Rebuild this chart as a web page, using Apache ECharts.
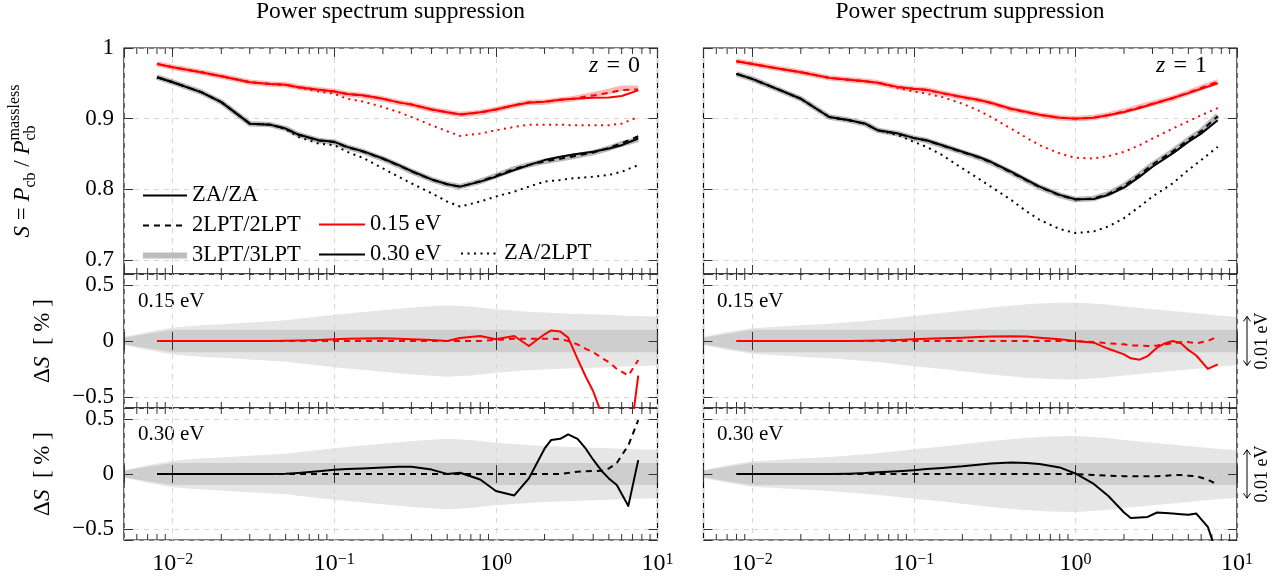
<!DOCTYPE html>
<html><head><meta charset="utf-8">
<script src="https://cdn.jsdelivr.net/npm/echarts/dist/echarts.min.js"></script>
<style>html,body{margin:0;padding:0;background:#fff}#c{width:1287px;height:583px}</style>
</head><body><div id="c"></div>
<script>
// ---------------- data ----------------
const kTop = [0.008, 0.01, 0.015, 0.02, 0.03, 0.04, 0.05, 0.06, 0.08, 0.1, 0.12, 0.15, 0.2, 0.25, 0.3, 0.4, 0.5, 0.6, 0.8, 1.0, 1.3, 1.6, 2, 2.5, 3, 4, 5, 6, 7.6];

// z = 0, 0.15 eV
const z0RedZA   = [0.9775,0.9727,0.9657,0.9600,0.9516,0.9490,0.9480,0.9445,0.9410,0.9385,0.9350,0.9330,0.9280,0.9230,0.9200,0.9130,0.9090,0.9060,0.9090,0.9130,0.9190,0.9225,0.9240,0.9267,0.9280,0.9296,0.9300,0.9320,0.9400];
const z0RedLPT2 = [0.9775,0.9727,0.9657,0.9600,0.9516,0.9490,0.9480,0.9445,0.9410,0.9385,0.9350,0.9330,0.9280,0.9230,0.9200,0.9130,0.9090,0.9058,0.9086,0.9130,0.9190,0.9232,0.9238,0.9266,0.9282,0.9329,0.9366,0.9405,0.9414];
const z0RedLPT3 = [0.9775,0.9727,0.9657,0.9600,0.9516,0.9490,0.9480,0.9445,0.9410,0.9384,0.9349,0.9328,0.9278,0.9228,0.9199,0.9129,0.9090,0.9058,0.9086,0.9129,0.9188,0.9229,0.9236,0.9265,0.9282,0.9338,0.9384,0.9430,0.9430];
const z0RedZA2  = [0.9775,0.9727,0.9657,0.9600,0.9516,0.9490,0.9475,0.9440,0.9385,0.9352,0.9281,0.9244,0.9164,0.9093,0.9023,0.8906,0.8821,0.8755,0.8788,0.8835,0.8882,0.8915,0.8915,0.8915,0.8906,0.8906,0.8906,0.8929,0.9023];
// z = 0, 0.30 eV
const z0BlackZA   = [0.9586,0.9516,0.9375,0.9234,0.8929,0.8915,0.8859,0.8774,0.8694,0.8671,0.8600,0.8539,0.8436,0.8342,0.8258,0.8140,0.8070,0.8037,0.8108,0.8178,0.8272,0.8342,0.8413,0.8460,0.8493,0.8530,0.8577,0.8624,0.8718];
const z0BlackLPT2 = [0.9586,0.9516,0.9375,0.9234,0.8929,0.8915,0.8859,0.8772,0.8691,0.8667,0.8596,0.8535,0.8431,0.8337,0.8253,0.8137,0.8070,0.8036,0.8112,0.8191,0.8288,0.8345,0.8394,0.8433,0.8465,0.8521,0.8584,0.8653,0.8750];
const z0BlackLPT3 = [0.9586,0.9516,0.9375,0.9234,0.8929,0.8915,0.8859,0.8772,0.8691,0.8667,0.8596,0.8535,0.8431,0.8337,0.8253,0.8137,0.8070,0.8036,0.8112,0.8191,0.8288,0.8345,0.8394,0.8433,0.8464,0.8519,0.8580,0.8641,0.8707];
const z0BlackZA2  = [0.9586,0.9516,0.9375,0.9234,0.8929,0.8915,0.8850,0.8741,0.8647,0.8624,0.8530,0.8446,0.8295,0.8178,0.8084,0.7943,0.7826,0.7755,0.7826,0.7896,0.7967,0.8037,0.8108,0.8131,0.8155,0.8178,0.8202,0.8248,0.8342];
// z = 1, 0.15 eV
const z1RedZA   = [0.9812,0.9774,0.9704,0.9657,0.9577,0.9549,0.9530,0.9507,0.9446,0.9422,0.9408,0.9361,0.9305,0.9267,0.9225,0.9140,0.9093,0.9056,0.9014,0.9000,0.9014,0.9047,0.9093,0.9150,0.9206,0.9291,0.9361,0.9422,0.9500];
const z1RedLPT2 = [0.9812,0.9774,0.9704,0.9657,0.9577,0.9549,0.9530,0.9507,0.9445,0.9421,0.9406,0.9359,0.9302,0.9264,0.9221,0.9136,0.9089,0.9053,0.9013,0.9000,0.9014,0.9051,0.9101,0.9161,0.9210,0.9289,0.9367,0.9434,0.9524];
const z1RedLPT3 = [0.9812,0.9774,0.9704,0.9657,0.9577,0.9549,0.9530,0.9507,0.9445,0.9421,0.9406,0.9359,0.9302,0.9264,0.9221,0.9136,0.9089,0.9053,0.9013,0.9000,0.9015,0.9053,0.9104,0.9165,0.9214,0.9291,0.9368,0.9436,0.9520];
const z1RedZA2  = [0.9812,0.9774,0.9704,0.9657,0.9577,0.9549,0.9530,0.9505,0.9432,0.9385,0.9352,0.9305,0.9211,0.9117,0.9023,0.8859,0.8727,0.8624,0.8507,0.8446,0.8436,0.8469,0.8530,0.8624,0.8718,0.8859,0.8962,0.9047,0.9150];
// z = 1, 0.30 eV
const z1BlackZA   = [0.9633,0.9563,0.9399,0.9281,0.9023,0.8976,0.8929,0.8835,0.8788,0.8727,0.8694,0.8624,0.8530,0.8460,0.8389,0.8248,0.8131,0.8037,0.7920,0.7859,0.7863,0.7920,0.8023,0.8178,0.8319,0.8507,0.8671,0.8788,0.8976];
const z1BlackLPT2 = [0.9633,0.9563,0.9399,0.9281,0.9023,0.8976,0.8928,0.8834,0.8786,0.8724,0.8690,0.8619,0.8524,0.8453,0.8381,0.8239,0.8123,0.8030,0.7915,0.7855,0.7869,0.7935,0.8049,0.8208,0.8349,0.8537,0.8702,0.8823,0.9035];
const z1BlackLPT3 = [0.9633,0.9563,0.9399,0.9281,0.9023,0.8976,0.8928,0.8834,0.8786,0.8724,0.8690,0.8619,0.8524,0.8453,0.8381,0.8239,0.8123,0.8030,0.7915,0.7855,0.7870,0.7936,0.8051,0.8210,0.8351,0.8538,0.8703,0.8825,0.9044];
const z1BlackZA2  = [0.9633,0.9563,0.9399,0.9281,0.9023,0.8976,0.8929,0.8835,0.8765,0.8671,0.8600,0.8483,0.8295,0.8155,0.8037,0.7849,0.7685,0.7568,0.7436,0.7380,0.7403,0.7474,0.7591,0.7755,0.7896,0.8084,0.8272,0.8413,0.8601];

// Delta S [%]
const kDelta = [0.008, 0.01, 0.015, 0.02, 0.03, 0.04, 0.05, 0.06, 0.08, 0.1, 0.12, 0.15, 0.2, 0.25, 0.3, 0.4, 0.5, 0.6, 0.8, 1.0, 1.3, 1.6, 2.0, 2.2, 2.5, 2.8, 3.2, 3.6, 4.0, 4.5, 5.0, 5.6, 6.6, 7.6];
const dZ0RedZA     = [0,0,0,0,0,0,0.003,0.005,0.01,0.015,0.02,0.022,0.025,0.02,0.015,0.01,0.0,0.026,0.044,0.015,0.045,-0.045,0.06,0.095,0.085,0.03,-0.16,-0.32,-0.45,-0.65,-0.9,-1.1,-1.0,-0.31];
const dZ0RedLPT2   = [0,0,0,0,0,0,0,0,0,0,0,0,0,0,0,0,0,0,0,0.01,0.02,0.02,0.02,0.02,0.015,0.0,-0.03,-0.07,-0.1,-0.15,-0.19,-0.25,-0.31,-0.17];
const dZ0BlackZA   = [0,0,0,0,0,0,0.003,0.01,0.025,0.038,0.045,0.05,0.06,0.066,0.065,0.04,0.0,0.012,-0.05,-0.155,-0.195,-0.04,0.23,0.31,0.32,0.36,0.32,0.23,0.13,0.03,-0.04,-0.1,-0.29,0.126];
const dZ0BlackLPT2 = [0,0,0,0,0,0,0,0,0,0,0,0,0,0,0,0,0,0,0,0,0,0,0,0,0,0.01,0.02,0.025,0.027,0.03,0.05,0.1,0.26,0.49];
const dZ1RedZA     = [0,0,0,0,0,0,0.003,0.005,0.01,0.015,0.02,0.025,0.03,0.035,0.04,0.042,0.04,0.03,0.015,0.0,-0.015,-0.07,-0.12,-0.155,-0.167,-0.135,-0.06,-0.02,0.0,-0.02,-0.08,-0.13,-0.25,-0.21];
const dZ1RedLPT2   = [0,0,0,0,0,0,0,0,0,0,0,0,0,0,0,0,0,0,0,0,-0.01,-0.02,-0.03,-0.04,-0.04,-0.045,-0.04,-0.03,-0.02,-0.01,-0.01,-0.02,0.0,0.04];
const dZ1BlackZA   = [0,0,0,0,0,0.003,0.008,0.015,0.025,0.035,0.045,0.055,0.07,0.085,0.095,0.105,0.1,0.09,0.06,0.005,-0.09,-0.2,-0.35,-0.4,-0.395,-0.39,-0.35,-0.355,-0.36,-0.365,-0.37,-0.36,-0.48,-0.75];
const dZ1BlackLPT2 = [0,0,0,0,0,0,0,0,0,0,0,0,0,0,0,0,0,0,0,0,-0.01,-0.015,-0.02,-0.02,-0.02,-0.02,-0.02,-0.015,-0.01,-0.01,-0.015,-0.02,-0.05,-0.1];

// shaded tolerance bands (half widths, %)
const kBand = [0.005, 0.007, 0.01, 0.015, 0.02, 0.03, 0.05, 0.07, 0.1, 0.15, 0.2, 0.3, 0.5, 0.7, 1, 1.5, 2, 3, 5, 7, 10];
const bandOuterL = [0.035,0.08,0.12,0.14,0.15,0.165,0.185,0.21,0.235,0.26,0.275,0.3,0.32,0.31,0.285,0.265,0.255,0.245,0.235,0.225,0.22];
const bandInnerL = [0.03,0.065,0.1,0.1,0.1,0.1,0.1,0.1,0.1,0.1,0.1,0.1,0.1,0.1,0.1,0.1,0.1,0.1,0.1,0.1,0.1];
const bandOuterR = [0.035,0.08,0.115,0.13,0.14,0.155,0.18,0.2,0.225,0.25,0.27,0.3,0.33,0.34,0.345,0.33,0.31,0.285,0.255,0.235,0.215];
const bandInnerR = [0.03,0.065,0.1,0.1,0.1,0.1,0.1,0.1,0.1,0.1,0.1,0.1,0.1,0.1,0.1,0.1,0.1,0.1,0.1,0.1,0.1];

const minorK = [0.006,0.007,0.008,0.009,0.02,0.03,0.04,0.05,0.06,0.07,0.08,0.09,0.2,0.3,0.4,0.5,0.6,0.7,0.8,0.9,2,3,4,5,6,7,8,9];
const arrowHalf = 0.22;   // "0.01 eV" scale bar half length in Delta S units
const columnTitles = ['Power spectrum suppression', 'Power spectrum suppression'];
const redshiftLabels = ['0', '1'];
const massLabels = ['0.15 eV', '0.30 eV'];

// ---------------- layout / style ----------------
const FONT = '"Liberation Serif","DejaVu Serif",serif';
const RED = '#ff0000', BLACK = '#000000';
const colLeft = [124, 703.5], W = 533.5;
function fmtX(v){ const e=Math.log10(v), r=Math.round(e); if(Math.abs(e-r)>1e-6) return ''; return '10{e|'+(r<0?'\u2212'+(-r):String(r))+'}'; }
function fmtTop(v){ const r=Math.round(v*10)/10; if(Math.abs(v-r)>1e-6) return ''; return Math.abs(r-1)<1e-9?'1':r.toFixed(1); }
function fmtDelta(v){ const r=Math.round(v*2)/2; if(Math.abs(v-r)>1e-6) return ''; if(Math.abs(r)<1e-9) return '0'; return (r<0?'\u2212':'')+Math.abs(r).toFixed(1); }
const rowsDef = [
  {top:48,  h:226, min:0.68, max:1.0, split:3, fmt:fmtTop},
  {top:274, h:134, min:-0.6, max:0.6, split:2, fmt:fmtDelta},
  {top:408, h:132, min:-0.6, max:0.6, split:2, fmt:fmtDelta}
];

const option = {animation:false, backgroundColor:'#fff', title:[], grid:[], xAxis:[], yAxis:[], legend:[], series:[], graphic:[]};
const tickStyle = {color:'#333', width:1};
const splitStyle = {show:true, lineStyle:{color:'#d6d6d6', type:[5,5], width:1}};

for (let c=0;c<2;c++) for (let r=0;r<3;r++){
  const g=c*3+r, R=rowsDef[r];
  option.grid.push({left:colLeft[c], top:R.top, width:W, height:R.h, show:true, borderColor:'#000', borderWidth:1.2,
    backgroundColor:'rgba(0,0,0,0)', containLabel:false, outerBoundsMode:'none'});
  option.xAxis.push({type:'log', logBase:10, gridIndex:g, min:0.005, max:10, position:'bottom',
    axisLine:{show:false}, axisTick:{show:true, inside:true, length:9, lineStyle:tickStyle},
    axisLabel:{show:r===2, formatter:fmtX, margin:12, color:'#000', fontFamily:FONT, fontSize:24,
      rich:{e:{fontSize:16, fontFamily:FONT, color:'#000', verticalAlign:'top', lineHeight:12}}},
    splitLine:splitStyle, minorTick:{show:false}});
  option.xAxis.push({type:'log', logBase:10, gridIndex:g, min:0.005, max:10, position:'top',
    axisLine:{show:false}, axisTick:{show:true, inside:true, length:9, lineStyle:tickStyle},
    axisLabel:{show:false}, splitLine:{show:false}});
  const yl = {type:'value', gridIndex:g, min:R.min, max:R.max, splitNumber:R.split, position:'left',
    axisLine:{show:false}, axisTick:{show:true, inside:true, length:9, lineStyle:tickStyle},
    axisLabel:{show:c===0, formatter:R.fmt, margin:10, color:'#000', fontFamily:FONT, fontSize:23},
    splitLine:splitStyle};
  if (c===0 && r===0){
    yl.name = '{i|S} = {i|P}{sub|cb} / {i|P}{sup|massless}{sub2|cb}';
    yl.nameLocation='middle'; yl.nameRotate=90; yl.nameGap=101;
    yl.nameTextStyle={fontFamily:FONT, fontSize:23, color:'#000', lineHeight:32, verticalAlign:'middle',
      rich:{ i:{fontFamily:FONT, fontSize:23, fontStyle:'italic', color:'#000', lineHeight:32, verticalAlign:'middle'},
             sub:{fontFamily:FONT, fontSize:16, color:'#000', lineHeight:15, verticalAlign:'bottom'},
             sup:{fontFamily:FONT, fontSize:16, color:'#000', lineHeight:15, verticalAlign:'top', padding:[0,-56,0,0]},
             sub2:{fontFamily:FONT, fontSize:16, color:'#000', lineHeight:15, verticalAlign:'bottom', padding:[0,41,0,0]} }};
  } else if (c===0){
    yl.name = '\u0394{i|S}  [ % ]';
    yl.nameLocation='middle'; yl.nameRotate=90; yl.nameGap=70;
    yl.nameTextStyle={fontFamily:FONT, fontSize:23, color:'#000',
      rich:{ i:{fontFamily:FONT, fontSize:23, fontStyle:'italic', color:'#000'} }};
  }
  option.yAxis.push(yl);
  option.yAxis.push({type:'value', gridIndex:g, min:R.min, max:R.max, splitNumber:R.split, position:'right',
    axisLine:{show:false}, axisTick:{show:true, inside:true, length:9, lineStyle:tickStyle},
    axisLabel:{show:false}, splitLine:{show:false}});

  // minor ticks on the log axis (top and bottom)
  option.series.push({type:'custom', xAxisIndex:2*g, yAxisIndex:2*g, silent:true, z:3,
    data:minorK.map(k=>[k, R.min]),
    renderItem:(p, api)=>{
      const k=api.value(0); const b=api.coord([k,R.min]); const t=api.coord([k,R.max]);
      return {type:'group', children:[
        {type:'line', shape:{x1:b[0],y1:b[1],x2:b[0],y2:b[1]-6}, style:{stroke:'#333',lineWidth:1}},
        {type:'line', shape:{x1:t[0],y1:t[1],x2:t[0],y2:t[1]+6}, style:{stroke:'#333',lineWidth:1}}]};
    }});
}

function addLine(g, ks, vals, color, width, dash, z, opacity){
  option.series.push({type:'line', xAxisIndex:2*g, yAxisIndex:2*g, data:ks.map((k,i)=>[k, vals[i]]),
    symbol:'none', showSymbol:false, clip:true, z:z, silent:true,
    lineStyle:{color:color, width:width, type:dash, opacity:(opacity==null?1:opacity), cap:'butt', join:'round'}});
}
function addBand(g, half, fill, z){
  option.series.push({type:'custom', xAxisIndex:2*g, yAxisIndex:2*g, data:[[1,0]], z:z, silent:true,
    renderItem:(p, api)=>{
      const pts=[];
      for (let i=0;i<kBand.length;i++) pts.push(api.coord([kBand[i], half[i]]));
      for (let i=kBand.length-1;i>=0;i--) pts.push(api.coord([kBand[i], -half[i]]));
      return {type:'polygon', shape:{points:pts}, style:{fill:fill}};
    }});
}
function addScaleBar(g){
  option.series.push({type:'custom', xAxisIndex:2*g, yAxisIndex:2*g, data:[[10,0]], z:5, silent:true, clip:false,
    renderItem:(p, api)=>{
      const a=api.coord([10,-arrowHalf]), b=api.coord([10,arrowHalf]);
      const x=a[0]+10, ym=(a[1]+b[1])/2;
      const st={stroke:'#000', lineWidth:1, fill:null};
      return {type:'group', children:[
        {type:'line', shape:{x1:x,y1:a[1],x2:x,y2:b[1]}, style:st},
        {type:'polyline', shape:{points:[[x-3.5,b[1]+5],[x,b[1]],[x+3.5,b[1]+5]]}, style:st},
        {type:'polyline', shape:{points:[[x-3.5,a[1]-5],[x,a[1]],[x+3.5,a[1]-5]]}, style:st},
        {type:'text', x:x+15, y:ym, rotation:Math.PI/2,
          style:{text:'0.01 eV', align:'center', verticalAlign:'middle', fontFamily:FONT, fontSize:18, fill:'#000'}}]};
    }});
}

// bands
addBand(1, bandOuterL, '#e6e6e6', -1); addBand(1, bandInnerL, '#cecece', -1);
addBand(2, bandOuterL, '#e6e6e6', -1); addBand(2, bandInnerL, '#cecece', -1);
addBand(4, bandOuterR, '#e6e6e6', -1); addBand(4, bandInnerR, '#cecece', -1);
addBand(5, bandOuterR, '#e6e6e6', -1); addBand(5, bandInnerR, '#cecece', -1);

const DASH=[6,5], DOT=[2,4.5];
// top panels
[[0, z0RedZA, z0RedLPT2, z0RedLPT3, z0RedZA2, RED], [0, z0BlackZA, z0BlackLPT2, z0BlackLPT3, z0BlackZA2, BLACK],
 [3, z1RedZA, z1RedLPT2, z1RedLPT3, z1RedZA2, RED], [3, z1BlackZA, z1BlackLPT2, z1BlackLPT3, z1BlackZA2, BLACK]
].forEach(([g, za, l2, l3, za2, col])=>{
  addLine(g, kTop, l3, col, 5.5, 'solid', 2, 0.28);
  addLine(g, kTop, za2, col, 2, DOT, 3);
  addLine(g, kTop, za, col, 2, 'solid', 4);
  addLine(g, kTop, l2, col, 2, DASH, 5);
});
// Delta panels
addLine(1, kDelta, dZ0RedLPT2, RED, 2, DASH, 3);   addLine(1, kDelta, dZ0RedZA, RED, 2, 'solid', 4);
addLine(2, kDelta, dZ0BlackLPT2, BLACK, 2, DASH, 3); addLine(2, kDelta, dZ0BlackZA, BLACK, 2, 'solid', 4);
addLine(4, kDelta, dZ1RedLPT2, RED, 2, DASH, 3);   addLine(4, kDelta, dZ1RedZA, RED, 2, 'solid', 4);
addLine(5, kDelta, dZ1BlackLPT2, BLACK, 2, DASH, 3); addLine(5, kDelta, dZ1BlackZA, BLACK, 2, 'solid', 4);
addScaleBar(4); addScaleBar(5);

// legend entries (style-only series)
const legendDefs = [
  ['ZA/ZA', BLACK, 2, 'solid'], ['2LPT/2LPT', BLACK, 2, DASH], ['3LPT/3LPT', '#bdbdbd', 6, 'solid'],
  ['0.15 eV', RED, 2, 'solid'], ['0.30 eV', BLACK, 2, 'solid'], ['ZA/2LPT', BLACK, 2, DOT]
];
legendDefs.forEach(([n,c,w,t])=>option.series.push({type:'line', name:n, xAxisIndex:0, yAxisIndex:0, data:[], symbol:'none',
  color:c, itemStyle:{color:c}, lineStyle:{color:c, width:w, type:t}}));
const legText = {fontFamily:FONT, fontSize:22.5, color:'#000', lineHeight:22};
const hiddenSymbol = {color:'rgba(0,0,0,0)', borderColor:'rgba(0,0,0,0)', borderWidth:0, opacity:0};
function legItem(i){ const d=legendDefs[i]; return {name:d[0], itemStyle:hiddenSymbol, lineStyle:{color:d[1], width:d[2], type:d[3], opacity:1}}; }
option.legend = [
  {left:140, top:184, orient:'vertical', itemWidth:44, itemHeight:14, itemGap:7, padding:0, selectedMode:false,
    textStyle:legText, data:[legItem(0), legItem(1), legItem(2)]},
  {left:318, top:213, orient:'vertical', itemWidth:46, itemHeight:14, itemGap:7, padding:0, selectedMode:false,
    textStyle:legText, data:[legItem(3), legItem(4)]},
  {left:460, top:242, orient:'vertical', itemWidth:38, itemHeight:14, itemGap:7, padding:0, selectedMode:false,
    textStyle:legText, data:[legItem(5)]}
];

// titles and annotations
option.title = [
  {text:columnTitles[0], left:390.5, top:0, padding:0, textAlign:'center', textStyle:{fontFamily:FONT, fontSize:23.5, fontWeight:'normal', color:'#000'}},
  {text:columnTitles[1], left:970, top:0, padding:0, textAlign:'center', textStyle:{fontFamily:FONT, fontSize:23.5, fontWeight:'normal', color:'#000'}}
];
const richZ = {i:{fontFamily:FONT, fontSize:24, fontStyle:'italic', fill:'#000', color:'#000'}};
const eqSep = '\u2004=\u2004';
option.graphic = [
  {type:'text', x:640, y:66, silent:true, style:{text:'{i|z}'+eqSep+redshiftLabels[0], align:'right', verticalAlign:'middle', fontFamily:FONT, fontSize:24, fill:'#000', rich:richZ}},
  {type:'text', x:1207, y:66, silent:true, style:{text:'{i|z}'+eqSep+redshiftLabels[1], align:'right', verticalAlign:'middle', fontFamily:FONT, fontSize:24, fill:'#000', rich:richZ}},
  {type:'text', x:138, y:301, silent:true, style:{text:massLabels[0], align:'left', verticalAlign:'middle', fontFamily:FONT, fontSize:21, fill:'#000'}},
  {type:'text', x:717, y:301, silent:true, style:{text:massLabels[0], align:'left', verticalAlign:'middle', fontFamily:FONT, fontSize:21, fill:'#000'}},
  {type:'text', x:138, y:434, silent:true, style:{text:massLabels[1], align:'left', verticalAlign:'middle', fontFamily:FONT, fontSize:21, fill:'#000'}},
  {type:'text', x:717, y:434, silent:true, style:{text:massLabels[1], align:'left', verticalAlign:'middle', fontFamily:FONT, fontSize:21, fill:'#000'}}
];

const chart = echarts.init(document.getElementById('c'), null, {renderer:'canvas'});
chart.setOption(option);
</script>
</body></html>
